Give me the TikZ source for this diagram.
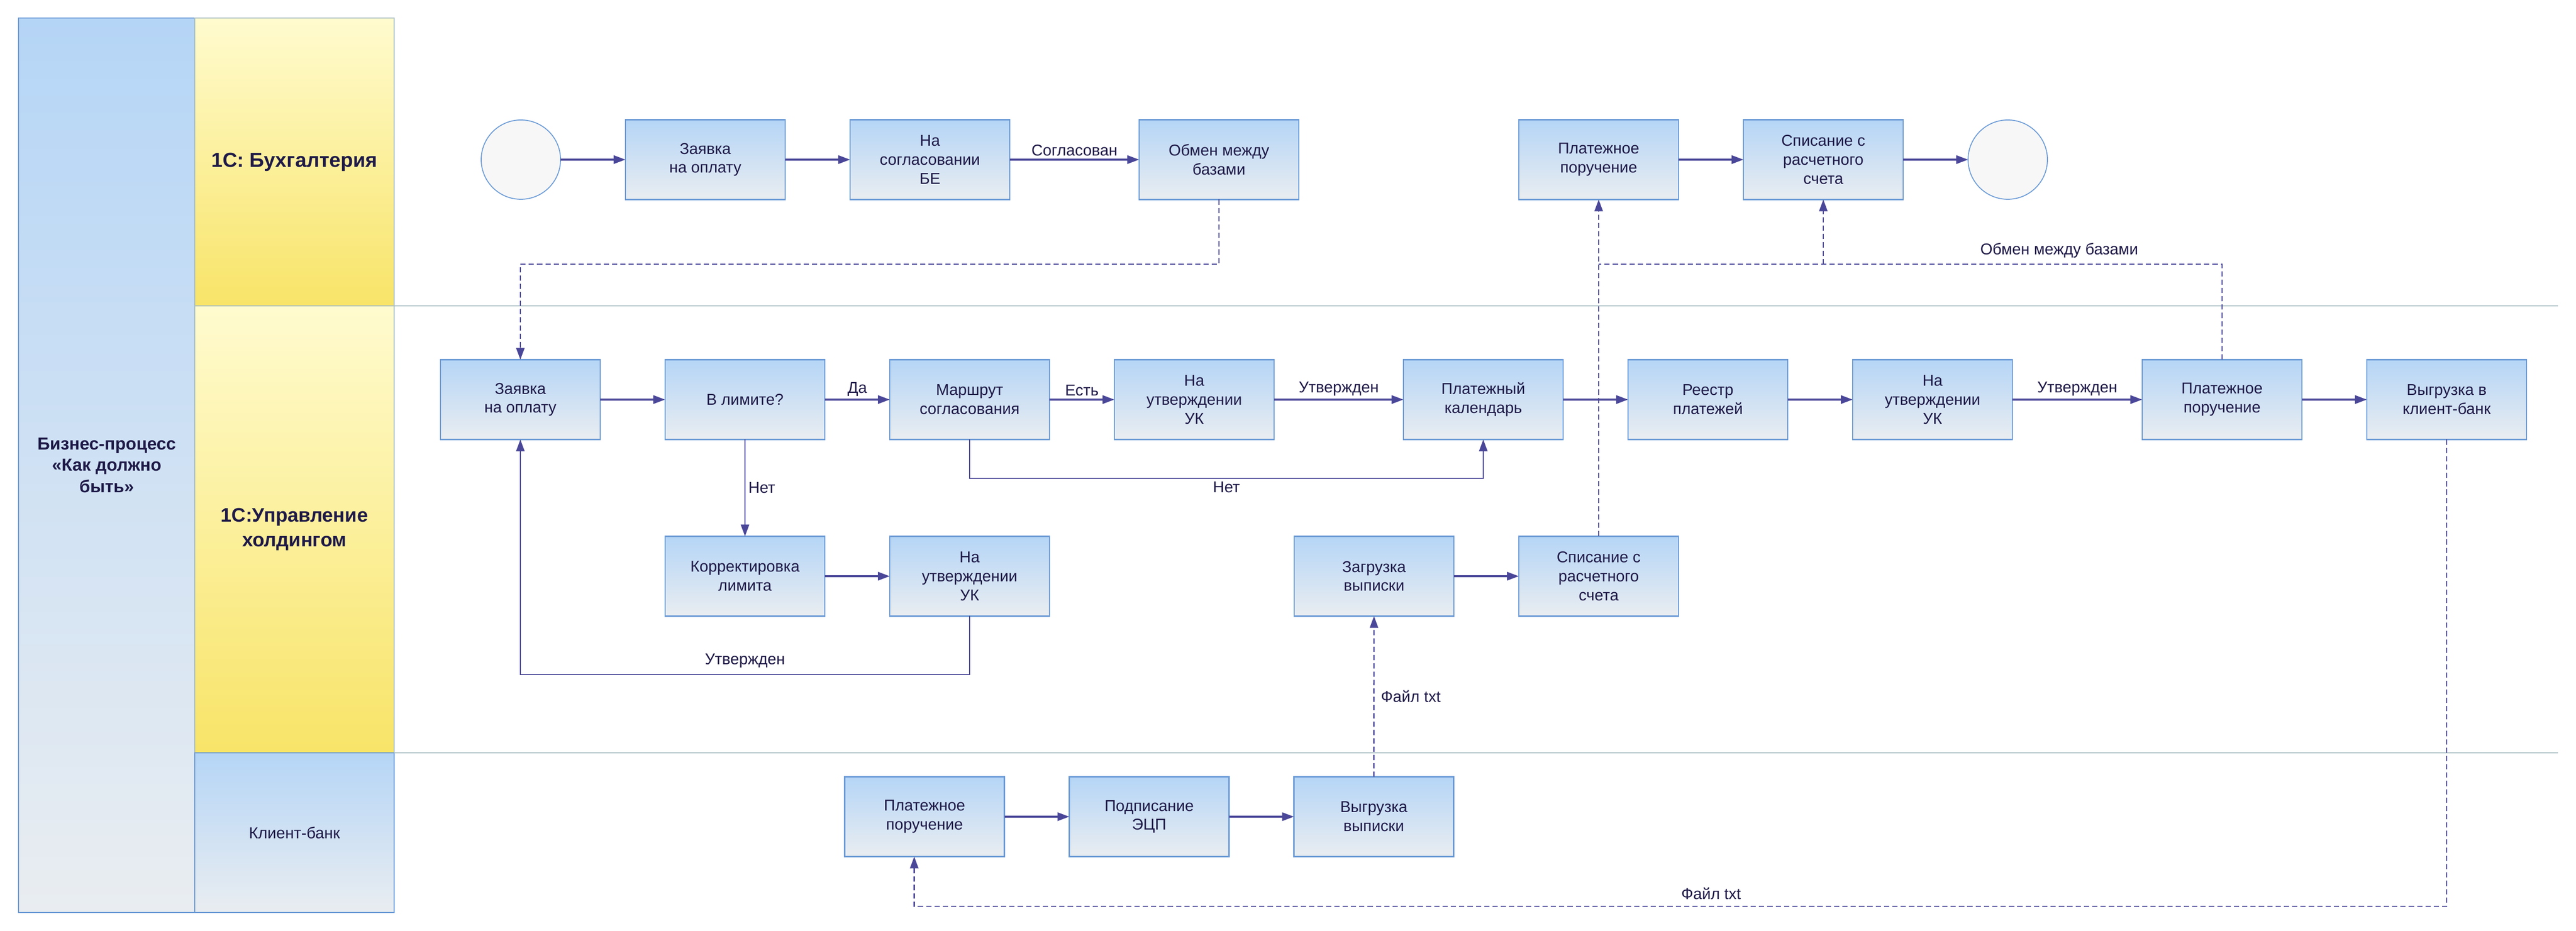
\documentclass[tikz,border=0pt]{standalone}
\usepackage{fontspec}
\setmainfont{Liberation Sans}
\usepackage{tikz}
\usetikzlibrary{positioning}
\usetikzlibrary{arrows.meta}

\definecolor{flowc}{HTML}{4A4799}
\definecolor{txt}{HTML}{1E1947}
\definecolor{boxtop}{HTML}{B5D5F6}
\definecolor{boxbot}{HTML}{E9EDF1}
\definecolor{boxline}{HTML}{6A9AD6}
\definecolor{lanetop}{HTML}{FFFBCF}
\definecolor{lanebot}{HTML}{F8E468}
\definecolor{laneline}{HTML}{A9BEC3}

\begin{document}
\begin{tikzpicture}[
    node distance=1.26cm, % gap between neighbouring boxes
    every node/.style={text=txt},
    box/.style={
        rectangle, draw=boxline, line width=0.6pt,
        top color=boxtop, bottom color=boxbot, % blue gradient
        minimum width=3.10cm, minimum height=1.55cm, inner sep=0pt, outer sep=0pt,
        align=center, font=\fontsize{8.7}{10.5}\selectfont
    },
    event/.style={circle, draw=boxline, line width=0.5pt, fill=black!3, minimum size=1.54cm, inner sep=0pt, outer sep=0pt},
    lanehead/.style={rectangle, draw=laneline, line width=0.8pt, top color=lanetop, bottom color=lanebot,
        align=center, anchor=north west, inner sep=0pt, outer sep=0pt},
    bluehead/.style={rectangle, draw=boxline, line width=0.6pt, top color=boxtop, bottom color=boxbot,
        align=center, anchor=north west, inner sep=0pt, outer sep=0pt},
    lbl/.style={font=\fontsize{8.7}{10.5}\selectfont, inner sep=1.5pt},
    flow/.style={draw=flowc, line width=0.9pt, -{Triangle[length=6.5pt,width=4.6pt]}},
    loop/.style={draw=flowc, line width=0.75pt, -{Triangle[length=6.5pt,width=4.6pt]}},
    xchg/.style={draw=flowc, line width=0.75pt, dash pattern=on 2.9pt off 1.7pt},
    tip/.style={-{Triangle[length=6.5pt,width=4.6pt]}}
]
\useasboundingbox (0,0) rectangle (50,18.07);

% lanes
\node[bluehead, minimum width=3.42cm, minimum height=17.37cm, font=\bfseries\fontsize{9.6}{11.9}\selectfont]
    (proc) at (0.36,17.72) {Бизнес-процесс\\«Как должно\\быть»};
\node[lanehead, minimum width=3.87cm, minimum height=5.59cm, font=\bfseries\fontsize{11.2}{13.7}\selectfont]
    (hbuh) at (3.78,17.72) {1С: Бухгалтерия};
\node[lanehead, minimum width=3.87cm, minimum height=8.68cm, font=\bfseries\fontsize{10.8}{13.7}\selectfont]
    (hhold) at (3.78,12.13) {1С:Управление\\холдингом};
\node[bluehead, minimum width=3.87cm, minimum height=3.10cm, font=\fontsize{8.8}{10.5}\selectfont]
    (hbank) at (3.78,3.45) {Клиент-банк};
\draw[laneline, line width=0.8pt] (hbuh.south east) -- ++(42.0,0);
\draw[laneline, line width=0.8pt] (hhold.south east) -- ++(42.0,0);

% 1C: Бухгалтерия
\node[event] (start) at (10.11,14.97) {};
\node[box, right=of start] (zay1) {Заявка\\на оплату};
\node[box, right=of zay1] (soglas) {На\\согласовании\\БЕ};
\node[box, right=2.51cm of soglas] (obmen) {Обмен между\\базами};

% 1C: Управление холдингом
\node[box] (zay2) at (10.10,10.31) {Заявка\\на оплату};
\node[box, right=of zay2] (lim) {В лимите?};
\node[box, right=of lim] (marsh) {Маршрут\\согласования};
\node[box, right=of marsh] (uk1) {На\\утверждении\\УК};
\node[box, right=2.51cm of uk1] (kal) {Платежный\\календарь};
\node[box, right=of kal] (reestr) {Реестр\\платежей};
\node[box, right=of reestr] (uk2) {На\\утверждении\\УК};
\node[box, right=2.52cm of uk2] (pp2) {Платежное\\поручение};
\node[box, right=of pp2] (vygr) {Выгрузка в\\клиент-банк};

\node[box, below=1.88cm of lim] (korr) {Корректировка\\лимита};
\node[box, right=of korr] (uk3) {На\\утверждении\\УК};
\node[box, right=4.75cm of uk3] (zagr) {Загрузка\\выписки};
\node[box, right=of zagr] (spis2) {Списание с\\расчетного\\счета};

% back in 1C: Бухгалтерия
\node[box] (pp1) at (spis2 |- start) {Платежное\\поручение};
\node[box, right=of pp1] (spis1) {Списание с\\расчетного\\счета};
\node[event, right=of spis1] (finish) {};

% Клиент-банк
\node[box] (pp3) at (17.945,2.21) {Платежное\\поручение};
\node[box, right=of pp3] (ecp) {Подписание\\ЭЦП};
\node[box, right=of ecp] (vyp) {Выгрузка\\выписки};

% solid flows
\draw[flow] (start) -- (zay1);
\draw[flow] (zay1) -- (soglas);
\draw[flow] (soglas) -- node[lbl, above] {Согласован} (obmen);
\draw[flow] (pp1) -- (spis1);
\draw[flow] (spis1) -- (finish);

\draw[flow] (zay2) -- (lim);
\draw[flow] (lim) -- node[lbl, above] {Да} (marsh);
\draw[flow] (marsh) -- node[lbl, above] {Есть} (uk1);
\draw[flow] (uk1) -- node[lbl, above] {Утвержден} (kal);
\draw[flow] (kal) -- (reestr);
\draw[flow] (reestr) -- (uk2);
\draw[flow] (uk2) -- node[lbl, above] {Утвержден} (pp2);
\draw[flow] (pp2) -- (vygr);
\draw[flow] (korr) -- (uk3);
\draw[flow] (zagr) -- (spis2);
\draw[flow] (pp3) -- (ecp);
\draw[flow] (ecp) -- (vyp);

\draw[loop] (lim) -- node[lbl, right] {Нет} (korr);
\draw[loop] (marsh.south) -- ++(0,-0.755) -| node[lbl, below, pos=0.25] {Нет} (kal.south);
\draw[loop] (uk3.south) -- ++(0,-1.135) -| node[lbl, above, pos=0.25, yshift=2pt] {Утвержден} (zay2.south);

% exchange between bases
\draw[xchg, tip] (obmen.south) -- ++(0,-1.255) -| (zay2.north);
\draw[xchg, tip] (spis2.north) -- (pp1.south);
\coordinate (xr) at ([yshift=1.855cm]pp2.north);
\draw[xchg] (pp2.north) -- (xr) -- (xr -| pp1.south);
\draw[xchg, tip] (xr -| spis1.south) -- (spis1.south);
\node[lbl] (obmlbl) at (39.97,13.21) {Обмен между базами};

% text files
\draw[xchg, tip] (vyp) -- node[lbl, right, xshift=2pt] {Файл txt} (zagr);
\draw[xchg, tip] (vygr.south) -- ++(0,-9.065) -| node[lbl, above, pos=0.24, yshift=2pt] {Файл txt} ([xshift=-0.2cm]pp3.south);
\end{tikzpicture}
\end{document}
